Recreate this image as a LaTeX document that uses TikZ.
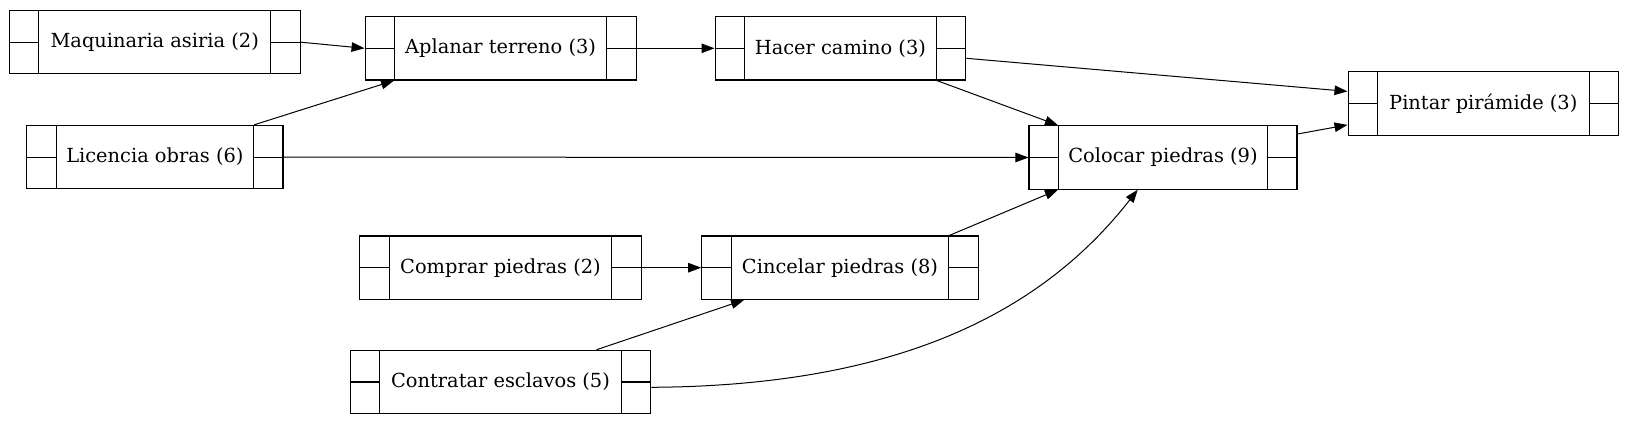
\documentclass[tikz,border=0pt]{standalone}
\usepackage{fontspec}
\setmainfont{DejaVu Serif}
\usetikzlibrary{arrows.meta}
\begin{document}
\begin{tikzpicture}[x=1pt,y=1pt,
  rec/.style={draw, line width=1.1pt, minimum height=63.4pt, inner sep=0pt,
    font=\fontsize{19.4}{23}\selectfont,
    path picture={
      \draw[line width=1.1pt] ([xshift=29.5pt]path picture bounding box.south west) -- ([xshift=29.5pt]path picture bounding box.north west);
      \draw[line width=1.1pt] ([xshift=-29.5pt]path picture bounding box.south east) -- ([xshift=-29.5pt]path picture bounding box.north east);
      \draw[line width=1.1pt] (path picture bounding box.west) -- ([xshift=29.5pt]path picture bounding box.west);
      \draw[line width=1.1pt] (path picture bounding box.east) -- ([xshift=-29.5pt]path picture bounding box.east);
    }},
  edge/.style={line width=1pt, -{Triangle[length=13pt,width=9.5pt]}}
]
\useasboundingbox (0,0) rectangle (1630,426);
\node[rec, minimum width=291pt]   (maq) at (154.75,383.8) {Maquinaria asiria (2)};
\node[rec, minimum width=256.2pt] (lic) at (154.9,268.9) {Licencia obras (6)};
\node[rec, minimum width=271pt]   (apl) at (500.6,377.7) {Aplanar terreno (3)};
\node[rec, minimum width=250.7pt] (hac) at (840.4,377.7) {Hacer camino (3)};
\node[rec, minimum width=268pt]   (col) at (1163,268.5) {Colocar piedras (9)};
\node[rec, minimum width=270.5pt] (pin) at (1483.3,322.6) {Pintar pirámide (3)};
\node[rec, minimum width=281.7pt] (com) at (500.5,158.3) {Comprar piedras (2)};
\node[rec, minimum width=276.5pt] (cin) at (840,158.3) {Cincelar piedras (8)};
\node[rec, minimum width=300.4pt] (con) at (500.5,44) {Contratar esclavos (5)};

\draw[edge] (maq.east) -- (apl.west);
\draw[edge] ([xshift=-29.5pt]lic.north east) -- ([xshift=29.5pt]apl.south west);
\draw[edge] (lic.east) -- (col.west);
\draw[edge] (apl.east) -- (hac.west);
\draw[edge] ([yshift=-10pt]hac.east) -- ([yshift=12pt]pin.west);
\draw[edge] ([xshift=-29.5pt]hac.south east) -- ([xshift=29.5pt]col.north west);
\draw[edge] ([yshift=23.5pt]col.east) -- ([yshift=-21.5pt]pin.west);
\draw[edge] ([xshift=-29.5pt]cin.north east) -- ([xshift=29.5pt]col.south west);
\draw[edge] (com.east) -- (cin.west);
\draw[edge] ([xshift=96pt]con.north) -- ([xshift=-96pt]cin.south);
\draw[edge] ([yshift=-5.3pt]con.east) .. controls +(253.3pt,1.3pt) and +(-92.7pt,-118.7pt) .. ([xshift=-25.3pt]col.south);
\end{tikzpicture}
\end{document}
